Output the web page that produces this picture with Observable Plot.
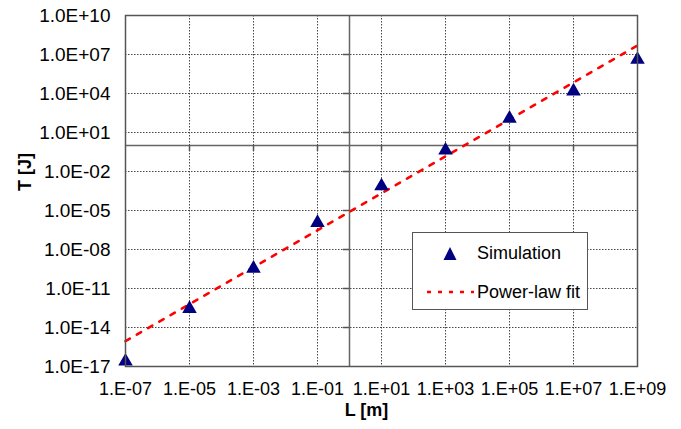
<!DOCTYPE html>
<html><head><meta charset="utf-8">
<script src="https://cdn.jsdelivr.net/npm/d3@7"></script>
<script src="https://cdn.jsdelivr.net/npm/@observablehq/plot@0.6"></script>
<style>
body{margin:0;background:#fff;}
#wrap{position:relative;width:681px;height:429px;font-family:"Liberation Sans",Arial,sans-serif;}
#legend{position:absolute;left:412px;top:232px;width:176px;height:78px;border:1px solid #555;background:#fff;box-sizing:border-box;}
#legend .lab{position:absolute;left:64px;font-size:18px;line-height:18px;color:#000;white-space:nowrap;}
#legend svg{position:absolute;left:0;top:0;}
</style></head><body><div id="wrap"></div>
<script>
// Simulation points (L in m, T in J)
const lengths = [1e-7, 1e-5, 1e-3, 1e-1, 1e1, 1e3, 1e5, 1e7, 1e9];
const energies = [2.5e-17, 2.8e-13, 3.5e-10, 1.15e-6, 7.6e-4, 0.42, 120, 1.5e4, 4.1e6];
// Power-law fit line endpoints
const fitL = [1e-7, 1e9];
const fitT = [8.9e-16, 5e7];
// Ticks
const xTicks = [1e-7, 1e-5, 1e-3, 1e-1, 1e1, 1e3, 1e5, 1e7, 1e9];
const xTickLabels = ["1.E-07","1.E-05","1.E-03","1.E-01","1.E+01","1.E+03","1.E+05","1.E+07","1.E+09"];
const yTicks = [1e-17, 1e-14, 1e-11, 1e-8, 1e-5, 1e-2, 1e1, 1e4, 1e7, 1e10];
const yTickLabels = ["1.0E-17","1.0E-14","1.0E-11","1.0E-08","1.0E-05","1.0E-02","1.0E+01","1.0E+04","1.0E+07","1.0E+10"];
const xTitle = "L [m]";
const yTitle = "T [J]";
const legendLabels = ["Simulation", "Power-law fit"];

const sim = lengths.map((L, i) => ({L, T: energies[i]}));
const fit = fitL.map((L, i) => ({L, T: fitT[i]}));

const grid = {stroke: "#333", strokeOpacity: 0.9, strokeWidth: 1, strokeDasharray: "1.5,1.5"};
const axisLine = {stroke: "#666", strokeWidth: 1.5};

const chart = Plot.plot({
  width: 681, height: 429,
  marginLeft: 125, marginRight: 44, marginTop: 15, marginBottom: 63,
  style: {fontFamily: "Liberation Sans, Arial, sans-serif", fontSize: "18px", background: "#fff", color: "#000"},
  x: {type: "log", domain: [1e-7, 1e9]},
  y: {type: "log", domain: [1e-17, 1e10]},
  marks: [
    Plot.ruleX(xTicks.slice(1, -1), grid),
    Plot.ruleY(yTicks.slice(1, -1), grid),
    Plot.ruleX([1], axisLine),
    Plot.ruleY([1], axisLine),
    Plot.ruleX(xTicks.slice(1, -1), {y1: 1, y2: Math.pow(10, -0.46), stroke: "#555", strokeWidth: 1.5}),
    Plot.ruleY(yTicks.slice(1, -1), {x1: Math.pow(10, -0.19), x2: 1, stroke: "#555", strokeWidth: 1.5}),
    Plot.line(fit, {x: "L", y: "T", stroke: "#ff0000", strokeWidth: 2.5, strokeDasharray: "5,8"}),
    Plot.dot(sim, {x: "L", y: "T", symbol: "triangle", r: 5.4, fill: "#000080"}),
    Plot.frame({stroke: "#555", strokeWidth: 1.5}),
    Plot.axisX(xTicks, {tickSize: 0, tickPadding: 16, fontSize: 18, label: null,
      tickFormat: d => xTickLabels[xTicks.indexOf(d)]}),
    Plot.axisY(yTicks, {tickSize: 0, tickPadding: 15, fontSize: 19, label: null,
      tickFormat: d => yTickLabels[yTicks.indexOf(d)]}),
    Plot.text([xTitle], {text: d => d, frameAnchor: "bottom", dx: -15, dy: 49, fontSize: 18, fontWeight: "bold"}),
    Plot.text([yTitle], {text: d => d, frameAnchor: "left", rotate: -90, dx: -100, fontSize: 18, fontWeight: "bold"})
  ]
});
const wrap = document.getElementById("wrap");
wrap.appendChild(chart);

const legend = document.createElement("div");
legend.id = "legend";
legend.innerHTML =
  '<svg width="176" height="78">' +
  '<polygon points="37,14 43.5,27 30.5,27" fill="#000080"/>' +
  '<line x1="14" y1="59" x2="61" y2="59" stroke="#ff0000" stroke-width="2.5" stroke-dasharray="4,7"/>' +
  '</svg>' +
  '<div class="lab" style="top:11px">' + legendLabels[0] + '</div>' +
  '<div class="lab" style="top:50px">' + legendLabels[1] + '</div>';
wrap.appendChild(legend);
</script>
</body></html>
